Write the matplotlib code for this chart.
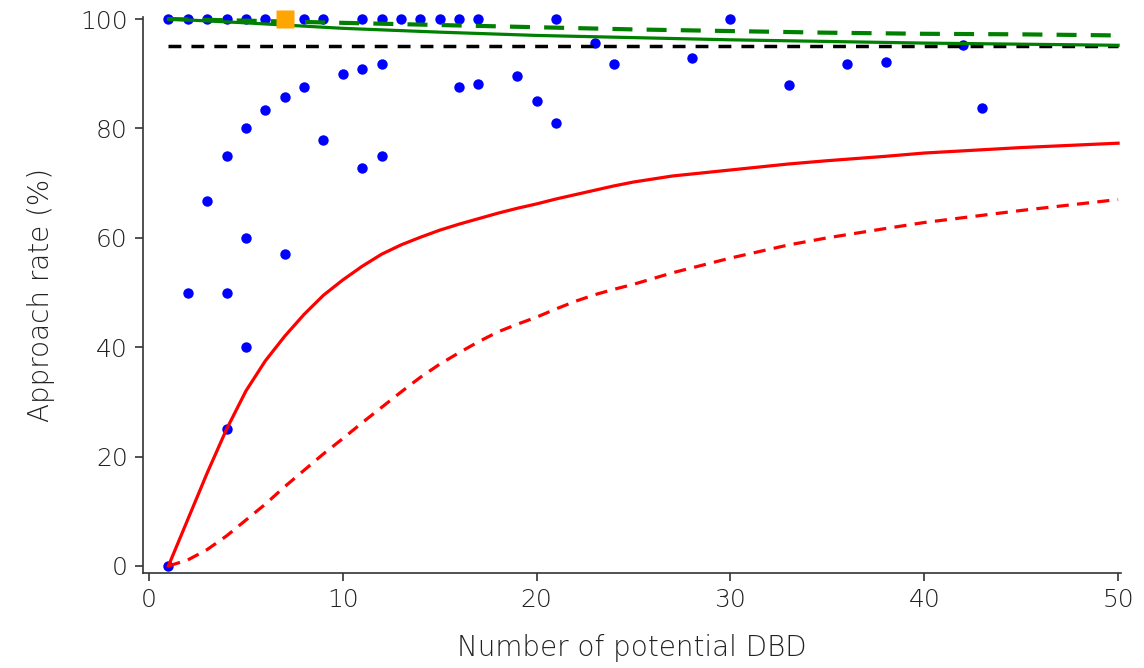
#!/usr/bin/env python3
"""Approach rate vs number of potential DBD, observed units and model curves."""

import matplotlib

matplotlib.use("Agg")
import matplotlib.pyplot as plt

# observed units (blue dots)
obs_n = [1, 1, 2, 2, 3, 3, 4, 4, 4, 4, 5, 5, 5, 5, 6, 6, 7, 7, 8, 8, 9, 9,
         10, 11, 11, 11, 12, 12, 12, 13, 14, 15, 16, 16, 17, 17, 19, 20, 21, 21,
         23, 24, 28, 30, 33, 36, 38, 42, 43]
obs_rate = [100, 0, 100, 50, 100, 66.7, 100, 75, 50, 25, 100, 80, 60, 40, 100, 83.3,
            85.7, 57.1, 100, 87.5, 100, 77.8, 90, 100, 90.9, 72.7, 100, 91.7, 75,
            100, 100, 100, 100, 87.5, 100, 88.2, 89.5, 85, 100, 81, 95.7, 91.7,
            92.9, 100, 87.9, 91.7, 92.1, 95.2, 83.7]

# highlighted unit (orange square)
hl_n = [7]
hl_rate = [100]

# model curves
curve_n = [1, 2, 3, 4, 5, 6, 7, 8, 9, 10, 11, 12, 13, 14, 15, 16, 17, 18, 19, 20,
           21, 22, 23, 24, 25, 27, 30, 33, 35, 38, 40, 45, 50]
red_solid = [0, 8.5, 17, 25, 32, 37.5, 42, 46, 49.5, 52.3, 54.8, 57, 58.7, 60.1,
             61.4, 62.5, 63.5, 64.5, 65.4, 66.2, 67.1, 67.9, 68.7, 69.5, 70.2, 71.3,
             72.4, 73.5, 74.1, 74.9, 75.5, 76.5, 77.3]
red_dashed = [0, 1.1, 3, 5.5, 8.4, 11.3, 14.5, 17.5, 20.5, 23.3, 26.2, 29, 31.8,
              34.5, 36.9, 39, 41, 42.8, 44.2, 45.5, 47, 48.4, 49.6, 50.6, 51.5, 53.6,
              56.3, 58.7, 60, 61.7, 62.8, 65, 67]

green_n = [1, 5, 10, 15, 20, 25, 30, 35, 40, 45, 50]
green_solid = [100, 99.3, 98.3, 97.6, 97.0, 96.6, 96.2, 95.9, 95.6, 95.4, 95.2]
green_dashed = [100, 99.7, 99.3, 98.9, 98.5, 98.1, 97.8, 97.5, 97.3, 97.2, 97.0]

target_n = [1, 50]
target_rate = [95, 95]

xticks = [0, 10, 20, 30, 40, 50]
yticks = [0, 20, 40, 60, 80, 100]

TXT = "#333333"
plt.rcParams["font.family"] = ["DejaVu Sans"]
plt.rcParams["font.weight"] = "light"
plt.rcParams["axes.labelweight"] = "light"

fig = plt.figure(figsize=(11.44, 6.68), dpi=100)
ax = fig.add_axes([143 / 1144, 1 - 573 / 668, (1121 - 143) / 1144, (573 - 17) / 668])

ax.plot(obs_n, obs_rate, "o", color="blue", ms=7.5, mec="none", clip_on=False, zorder=2)
ax.plot(target_n, target_rate, color="black", lw=2.5, dashes=(3.7, 2.9), zorder=3)
ax.plot(curve_n, red_solid, color="red", lw=2.3, zorder=3)
ax.plot(curve_n, red_dashed, color="red", lw=2.3, dashes=(3.8, 2.6), zorder=3)
ax.plot(green_n, green_solid, color="green", lw=2.3, clip_on=False, zorder=4)
ax.plot(green_n, green_dashed, color="green", lw=3, dashes=(4.8, 3.4),
        clip_on=False, zorder=4)
ax.plot(hl_n, hl_rate, "s", color="orange", ms=13, mec="none", clip_on=False, zorder=5)

ax.set_xlim(-0.31, 50.15)
ax.set_ylim(-1.28, 100.37)
ax.set_xticks(xticks)
ax.set_yticks(yticks)

for side in ("top", "right"):
    ax.spines[side].set_visible(False)
for side in ("left", "bottom"):
    ax.spines[side].set_color(TXT)
    ax.spines[side].set_linewidth(1.2)

ax.tick_params(direction="out", length=6, width=1.2, color=TXT,
               labelcolor="#222222", labelsize=18, pad=5)
ax.set_xlabel("Number of potential DBD", fontsize=20, color="#222222", labelpad=16)
ax.set_ylabel("Approach rate (%)", fontsize=20, color="#222222", labelpad=18)

fig.savefig("out.png", dpi=100)
